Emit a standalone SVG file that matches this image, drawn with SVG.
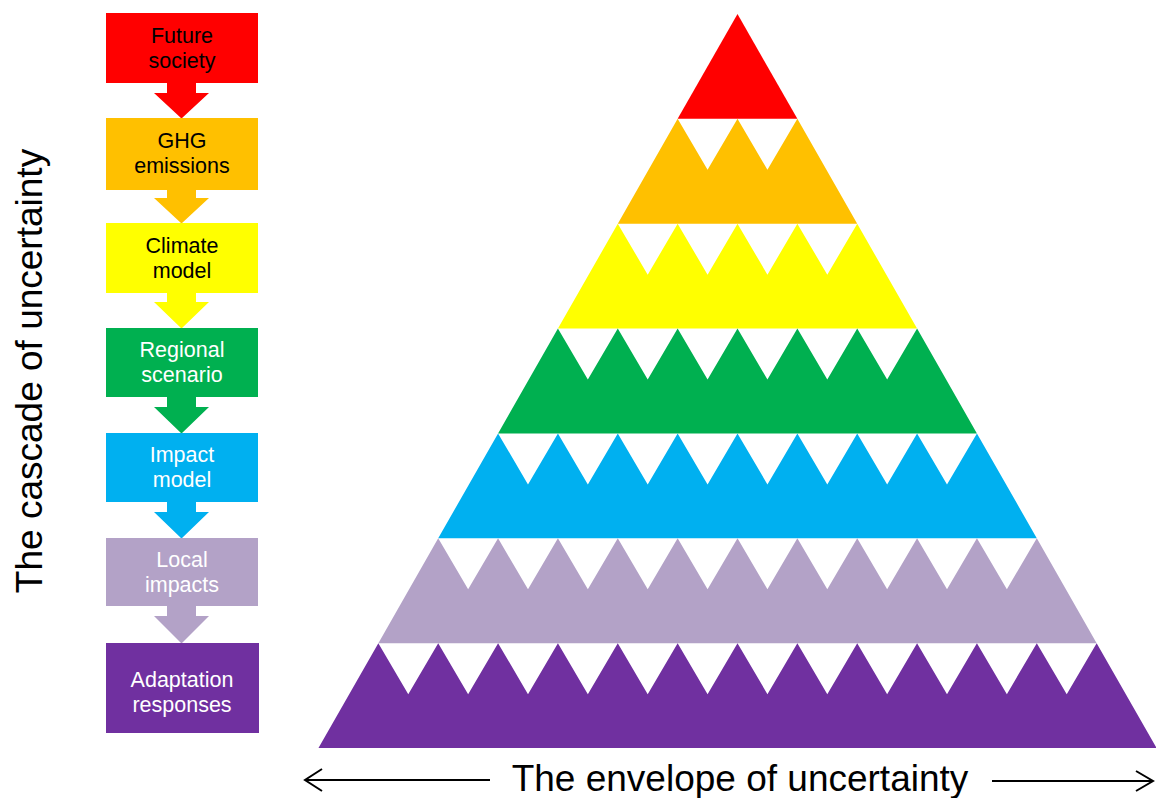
<svg xmlns="http://www.w3.org/2000/svg" width="1156" height="798" viewBox="0 0 1156 798">
<style>
.lbl{font-family:"Liberation Sans",Arial,sans-serif;font-size:21.5px;text-anchor:middle}
.dk{fill:#000}
.lt{fill:#fff}
.big{font-family:"Liberation Sans",Arial,sans-serif;font-size:37px;text-anchor:middle;fill:#000}
.ax{stroke:#000;stroke-width:2;fill:none}
</style>
<rect width="1156" height="798" fill="#fff"/>
<g id="pyramid">
<path fill="#FF0000" d="M737.5 14 L797.36 118.86 L677.64 118.86 Z"/>
<path fill="#FFC000" d="M617.78 223.71 L677.64 118.86 l29.93 51 l29.93 -51 l29.93 51 l29.93 -51 L857.22 223.71 Z"/>
<path fill="#FFFF00" d="M557.92 328.57 L617.78 223.71 l29.93 51 l29.93 -51 l29.93 51 l29.93 -51 l29.93 51 l29.93 -51 l29.93 51 l29.93 -51 L917.08 328.57 Z"/>
<path fill="#00B050" d="M498.06 433.43 L557.92 328.57 l29.93 51 l29.93 -51 l29.93 51 l29.93 -51 l29.93 51 l29.93 -51 l29.93 51 l29.93 -51 l29.93 51 l29.93 -51 l29.93 51 l29.93 -51 L976.94 433.43 Z"/>
<path fill="#00B0F0" d="M438.2 538.29 L498.06 433.43 l29.93 51 l29.93 -51 l29.93 51 l29.93 -51 l29.93 51 l29.93 -51 l29.93 51 l29.93 -51 l29.93 51 l29.93 -51 l29.93 51 l29.93 -51 l29.93 51 l29.93 -51 l29.93 51 l29.93 -51 L1036.8 538.29 Z"/>
<path fill="#B3A2C7" d="M378.34 643.14 L438.2 538.29 l29.93 51 l29.93 -51 l29.93 51 l29.93 -51 l29.93 51 l29.93 -51 l29.93 51 l29.93 -51 l29.93 51 l29.93 -51 l29.93 51 l29.93 -51 l29.93 51 l29.93 -51 l29.93 51 l29.93 -51 l29.93 51 l29.93 -51 l29.93 51 l29.93 -51 L1096.66 643.14 Z"/>
<path fill="#7030A0" d="M318.48 748 L378.34 643.14 l29.93 51 l29.93 -51 l29.93 51 l29.93 -51 l29.93 51 l29.93 -51 l29.93 51 l29.93 -51 l29.93 51 l29.93 -51 l29.93 51 l29.93 -51 l29.93 51 l29.93 -51 l29.93 51 l29.93 -51 l29.93 51 l29.93 -51 l29.93 51 l29.93 -51 l29.93 51 l29.93 -51 l29.93 51 l29.93 -51 L1156.52 748 Z"/>
</g>
<g id="connectors">
<polygon fill="#FF0000" points="167,82 196,82 196,93 209,93 181.5,118.5 154,93 167,93"/>
<polygon fill="#FFC000" points="167,189 196,189 196,198 209,198 181.5,223.5 154,198 167,198"/>
<polygon fill="#FFFF00" points="167,292 196,292 196,302 209,302 181.5,328.5 154,302 167,302"/>
<polygon fill="#00B050" points="167,396 196,396 196,407 209,407 181.5,433.5 154,407 167,407"/>
<polygon fill="#00B0F0" points="167,501 196,501 196,512 209,512 181.5,538.5 154,512 167,512"/>
<polygon fill="#B3A2C7" points="167,605 196,605 196,616 209,616 181.5,643.5 154,616 167,616"/>
</g>
<g id="future-society">
<rect x="106" y="13" width="152" height="70" fill="#FF0000"/>
<text class="lbl dk" x="182" y="43">Future</text>
<text class="lbl dk" x="182" y="68">society</text>
</g>
<g id="ghg-emissions">
<rect x="106" y="118" width="152" height="72" fill="#FFC000"/>
<text class="lbl dk" x="182" y="148">GHG</text>
<text class="lbl dk" x="182" y="173">emissions</text>
</g>
<g id="climate-model">
<rect x="106" y="223" width="152" height="70" fill="#FFFF00"/>
<text class="lbl dk" x="182" y="253">Climate</text>
<text class="lbl dk" x="182" y="278">model</text>
</g>
<g id="regional-scenario">
<rect x="106" y="328" width="152" height="69" fill="#00B050"/>
<text class="lbl lt" x="182" y="357">Regional</text>
<text class="lbl lt" x="182" y="382">scenario</text>
</g>
<g id="impact-model">
<rect x="106" y="433" width="152" height="69" fill="#00B0F0"/>
<text class="lbl lt" x="182" y="462">Impact</text>
<text class="lbl lt" x="182" y="487">model</text>
</g>
<g id="local-impacts">
<rect x="106" y="538" width="152" height="68" fill="#B3A2C7"/>
<text class="lbl lt" x="182" y="567">Local</text>
<text class="lbl lt" x="182" y="592">impacts</text>
</g>
<g id="adaptation-responses">
<rect x="106" y="643" width="153" height="90" fill="#7030A0"/>
<text class="lbl lt" x="182" y="687">Adaptation</text>
<text class="lbl lt" x="182" y="712">responses</text>
</g>
<g id="axes">
<text class="big" transform="translate(42,371) rotate(-90)">The cascade of uncertainty</text>
<text class="big" x="740" y="791">The envelope of uncertainty</text>
<line class="ax" x1="490" y1="780" x2="305" y2="780"/>
<polyline class="ax" points="322,769 305,780 322,791"/>
<line class="ax" x1="992" y1="781" x2="1153" y2="781"/>
<polyline class="ax" points="1136,771 1153,781 1136,791"/>
</g>
</svg>
